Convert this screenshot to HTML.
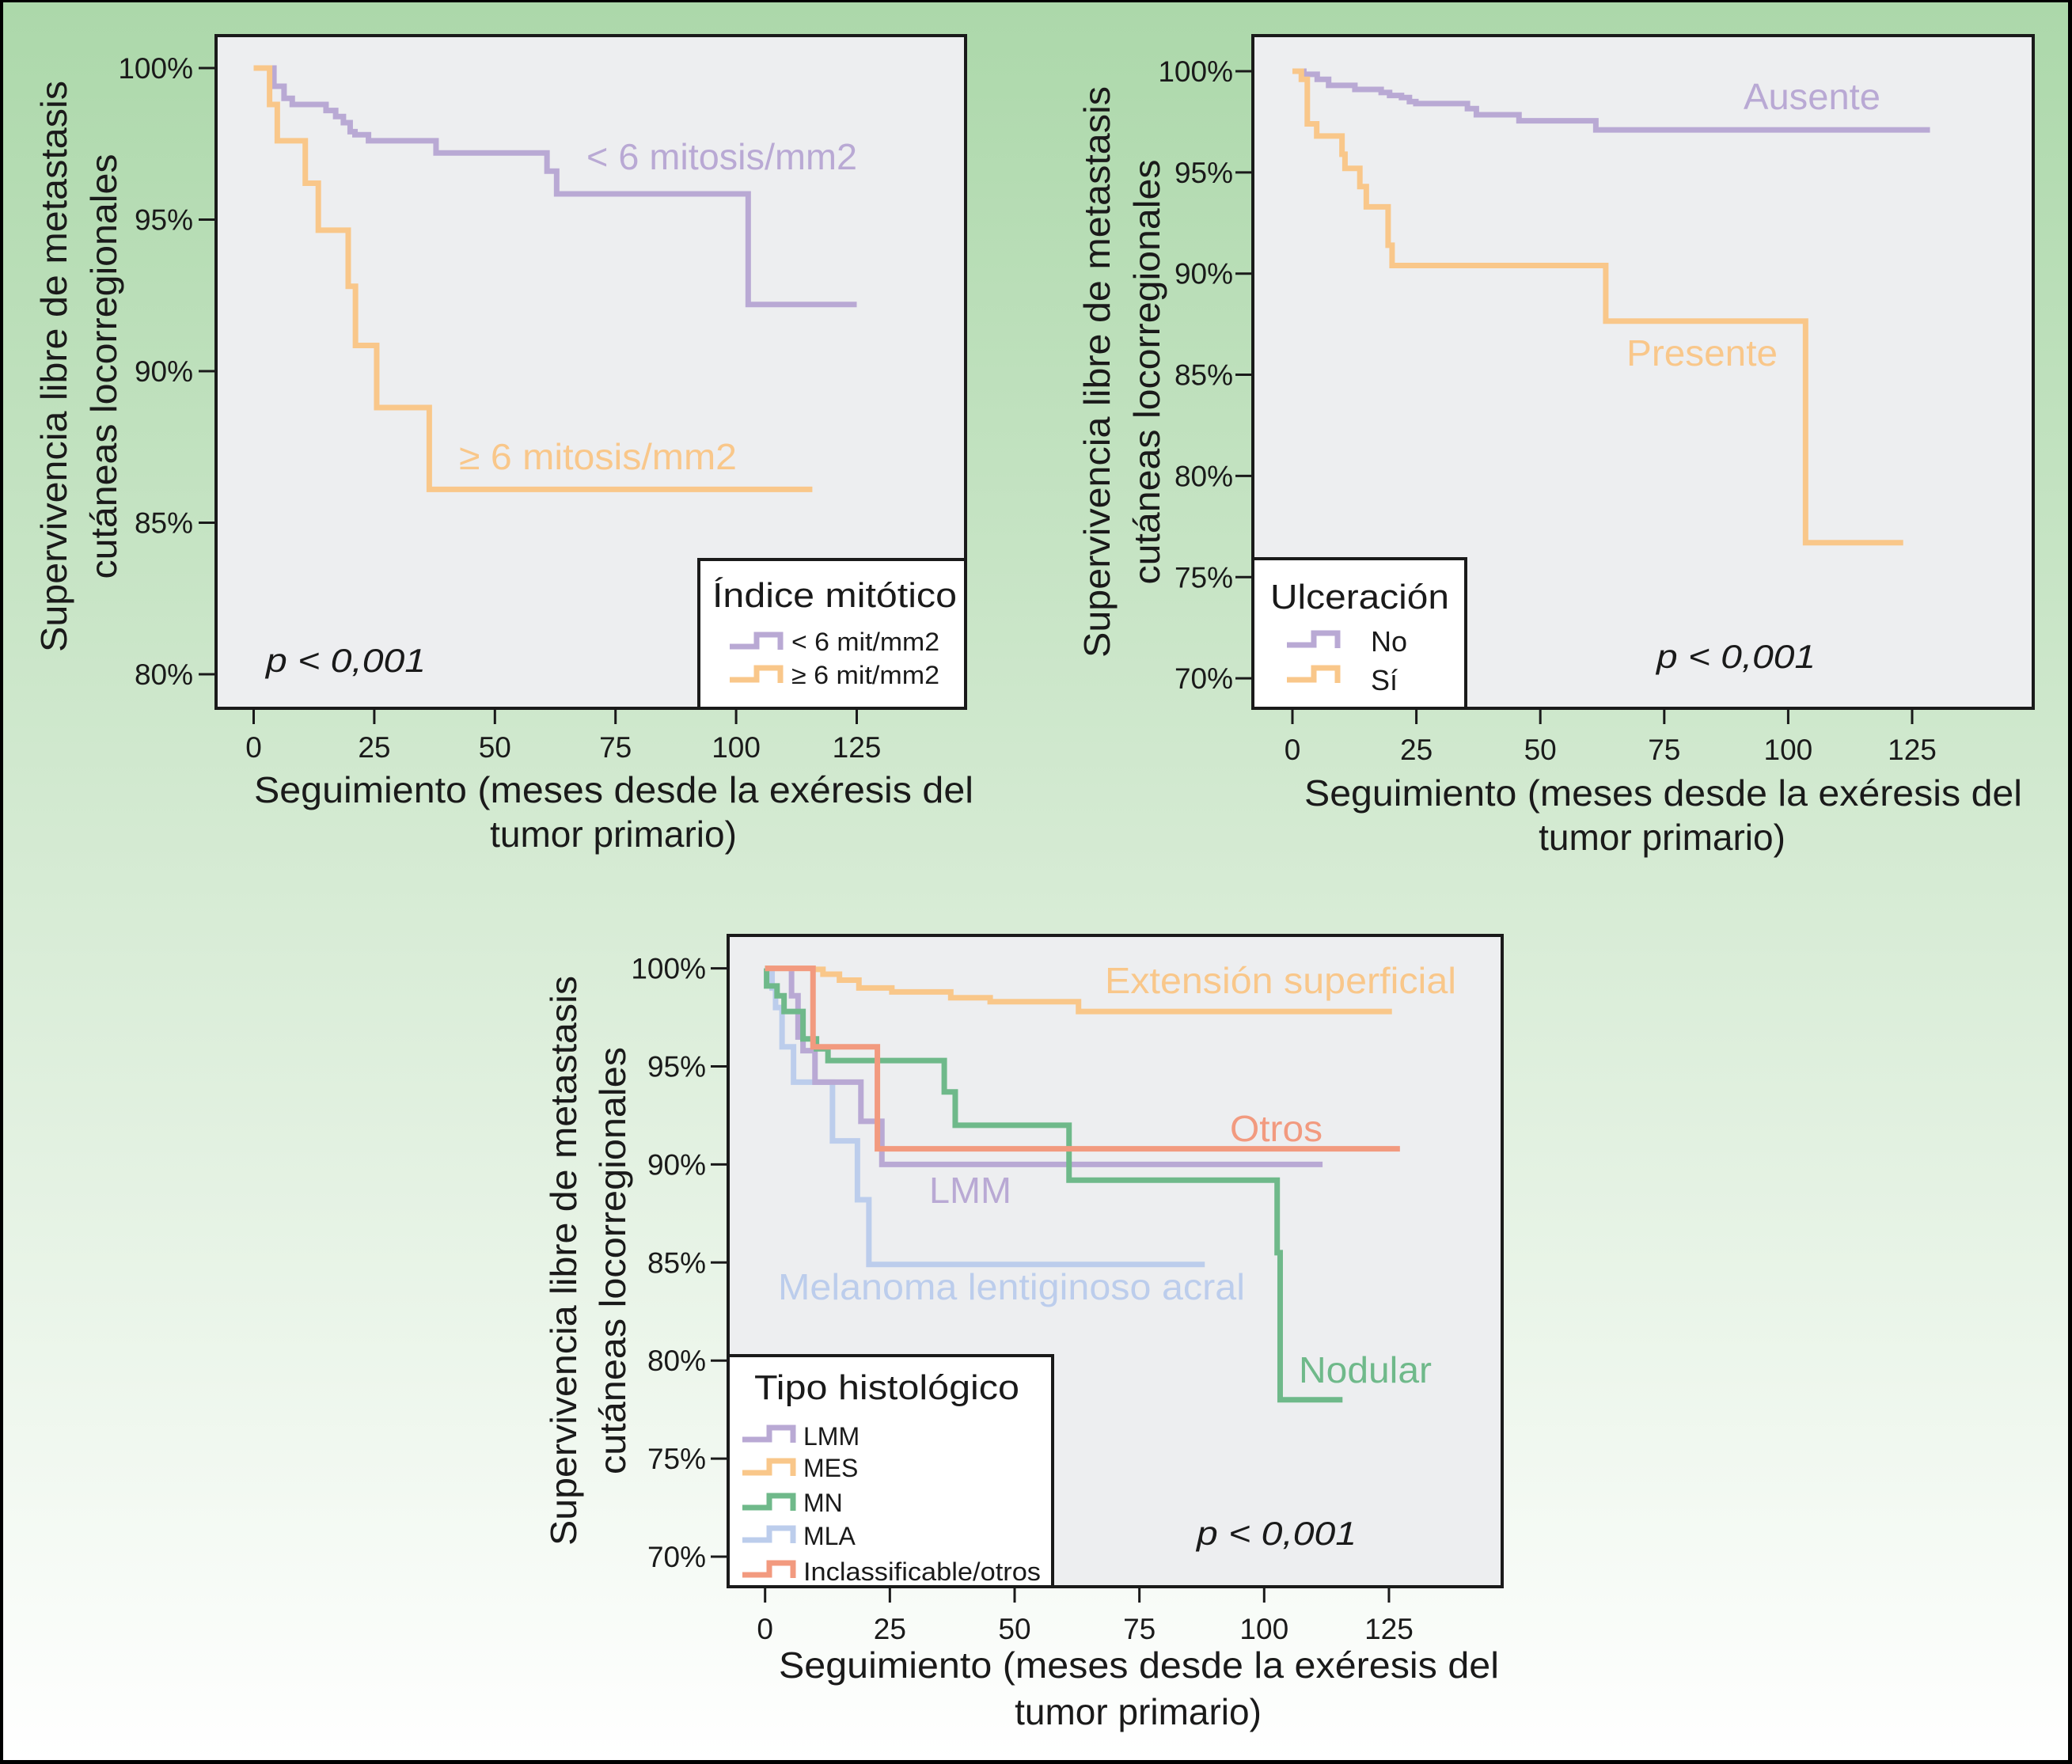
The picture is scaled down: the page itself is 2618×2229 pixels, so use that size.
<!DOCTYPE html>
<html><head><meta charset="utf-8"><style>
html,body{margin:0;padding:0}
body{width:2618px;height:2229px;overflow:hidden;background:#000}
svg{display:block}
text{font-family:"Liberation Sans",sans-serif;fill:#1a1a1a}
</style></head><body>
<svg id="fig" width="2618" height="2229" viewBox="0 0 2618 2229" xmlns="http://www.w3.org/2000/svg">
<defs><linearGradient id="bg" x1="0" y1="0" x2="0" y2="1">
<stop offset="0" stop-color="#acd8aa"/><stop offset="0.5" stop-color="#d6ebd4"/><stop offset="1" stop-color="#ffffff"/></linearGradient></defs>
<rect x="4" y="3" width="2609" height="2221" fill="url(#bg)"/>
<g id="root"></g>
</svg>
<script>
// ---- Chart 1 data (Índice mitótico)
const c1LowT = [0, 4.2, 6.3, 8, 15, 17, 18.6, 20, 21, 23.8, 37.8, 60.8, 62.8, 102.5, 125];
const c1LowS = [100, 99.4, 99.0, 98.8, 98.6, 98.4, 98.2, 97.9, 97.8, 97.6, 97.2, 96.6, 95.85, 92.2, 92.2];
const c1HighT = [0, 3.3, 4.9, 10.7, 13.4, 19.6, 21.1, 25.5, 36.4, 115.8];
const c1HighS = [100, 98.8, 97.6, 96.2, 94.65, 92.8, 90.85, 88.8, 86.1, 86.1];
const c1YTicks = [80, 85, 90, 95, 100];
const c1XTicks = [0, 25, 50, 75, 100, 125];
// ---- Chart 2 data (Ulceración)
const c2NoT = [0, 2.3, 5, 7.3, 12.6, 17.9, 19.6, 22, 23.6, 24.9, 35.3, 37.1, 45.7, 61.2, 128.6];
const c2NoS = [100, 99.85, 99.6, 99.3, 99.1, 98.95, 98.8, 98.7, 98.5, 98.4, 98.15, 97.85, 97.55, 97.1, 97.1];
const c2SiT = [0, 1.8, 3, 4.9, 10, 10.6, 13.6, 14.9, 19.3, 20.1, 63.2, 103.5, 123.2];
const c2SiS = [100, 99.6, 97.4, 96.8, 95.9, 95.2, 94.3, 93.3, 91.4, 90.4, 87.65, 76.7, 76.7];
const c2YTicks = [70, 75, 80, 85, 90, 95, 100];
const c2XTicks = [0, 25, 50, 75, 100, 125];
// ---- Chart 3 data (Tipo histológico)
const c3MesT = [0, 9.6, 11.6, 14.9, 18.8, 25.4, 37.2, 45.1, 62.8, 125.6];
const c3MesS = [100, 99.95, 99.7, 99.4, 99.0, 98.8, 98.5, 98.3, 97.8, 97.8];
const c3OtrT = [0, 9.6, 22.5, 127.2];
const c3OtrS = [100, 96.0, 90.8, 90.8];
const c3MnT = [0, 0.3, 2.4, 3.8, 7.6, 10.3, 12.6, 35.9, 38.1, 60.9, 102.6, 103.2, 115.7];
const c3MnS = [100, 99.1, 98.6, 97.8, 96.4, 95.9, 95.3, 93.7, 92.0, 89.2, 85.5, 78.0, 78.0];
const c3LmmT = [0, 5.3, 6.6, 7.6, 10, 19.2, 23.4, 111.7];
const c3LmmS = [100, 98.6, 96.5, 95.8, 94.2, 92.2, 90.0, 90.0];
const c3MlaT = [0, 1.4, 2.1, 3.4, 5.7, 13.5, 18.5, 20.8, 88.1];
const c3MlaS = [100, 99.0, 98.0, 96.0, 94.2, 91.2, 88.2, 84.9, 84.9];
const c3YTicks = [70, 75, 80, 85, 90, 95, 100];
const c3XTicks = [0, 25, 50, 75, 100, 125];

const NS = "http://www.w3.org/2000/svg";
const root = document.getElementById('root');
function mk(tag, attrs, parent, txt){
  const e = document.createElementNS(NS, tag);
  for (const k in attrs) e.setAttribute(k, attrs[k]);
  if (txt !== undefined) e.textContent = txt;
  (parent || root).appendChild(e);
  return e;
}
function stepPath(T, S, sx, sy){
  let d = 'M' + sx(T[0]) + ' ' + sy(S[0]);
  for (let i = 1; i < T.length; i++){
    d += ' H' + sx(T[i]) + ' V' + sy(S[i]);
  }
  return d;
}
function axes(g, box, sx, sy, yt, xt, tickR, xLabY){
  const bg = mk('rect', {x: box.x, y: box.y, width: box.w, height: box.h, fill: '#edeef0'}, g);
  
  
  yt.forEach(v => {
    const t = mk('line', {x1: box.x - 22, x2: box.x, y1: sy(v), y2: sy(v), stroke: '#1a1a1a', 'stroke-width': 3}, g);
    
    
    const l = mk('text', {x: tickR, y: sy(v) + 13, 'font-size': 37, 'text-anchor': 'end'}, g, v + '%');
    
    
  });
  xt.forEach(v => {
    const t = mk('line', {x1: sx(v), x2: sx(v), y1: box.y + box.h, y2: box.y + box.h + 20, stroke: '#1a1a1a', 'stroke-width': 3}, g);
    
    
    const l = mk('text', {x: sx(v), y: xLabY, 'font-size': 37, 'text-anchor': 'middle'}, g, String(v));
    
    
  });
}
function frame(g, box){
  const f = mk('rect', {x: box.x, y: box.y, width: box.w, height: box.h, fill: 'none', stroke: '#1a1a1a', 'stroke-width': 4}, g);
  
  
}
function series(g, T, S, sx, sy, color, name){
  const p = mk('path', {d: stepPath(T, S, sx, sy), fill: 'none', stroke: color, 'stroke-width': 7, 'stroke-linejoin': 'miter', 'stroke-linecap': 'butt'}, g);
  
  
}
function label(g, x, y, size, txt, color, name, opts){
  const a = Object.assign({x: x, y: y, 'font-size': size}, opts || {});
  const t = mk('text', a, g, txt);
  if (color) t.style.fill = color;
  
  
  return t;
}
function legendSym(g, x, y, color, name){
  // step glyph: low left segment, rise, high right segment, down tick
  const p = mk('path', {d: `M${x} ${y+18} H${x+34} V${y+3} H${x+64} V${y+22}`, fill: 'none', stroke: color, 'stroke-width': 7}, g);
  
  
}
function yTitle(g, x1, x2, cy, len1, len2){
  label(g, x1, cy, 46, 'Supervivencia libre de metastasis', null, 'y-axis-title-line1', {transform: `rotate(-90 ${x1} ${cy})`, 'text-anchor': 'middle', textLength: len1, lengthAdjust: 'spacingAndGlyphs'});
  label(g, x2, cy, 46, 'cutáneas locorregionales', null, 'y-axis-title-line2', {transform: `rotate(-90 ${x2} ${cy})`, 'text-anchor': 'middle', textLength: len2, lengthAdjust: 'spacingAndGlyphs'});
}
function xTitle(g, xl, xr, b1, cx2, b2){
  label(g, xl, b1, 46, 'Seguimiento (meses desde la exéresis del', null, 'x-axis-title-line1', {textLength: xr - xl, lengthAdjust: 'spacingAndGlyphs'});
  label(g, cx2, b2, 46, 'tumor primario)', null, 'x-axis-title-line2', {'text-anchor': 'middle'});
}
const PUR = '#b9a9d4', ORA = '#f9c78a', GRN = '#6fb98a', BLU = '#bccdec', SAL = '#f29a7f';

// ===== Chart 1
(function(){
  const g = mk('g', {});  
  const box = {x: 273, y: 45, w: 947, h: 850};
  const sx = v => 320.5 + v * 6.096;
  const sy = v => 86 + (100 - v) * 38.3;
  axes(g, box, sx, sy, c1YTicks, c1XTicks, 244, 957);
  series(g, c1LowT, c1LowS, sx, sy, PUR, 'series-lt6-mitosis');
  series(g, c1HighT, c1HighS, sx, sy, ORA, 'series-ge6-mitosis');
  label(g, 741, 214, 46, '< 6 mitosis/mm2', PUR, 'label-lt6-mitosis', {textLength: 342, lengthAdjust: 'spacingAndGlyphs'});
  label(g, 580, 593, 46, '≥ 6 mitosis/mm2', ORA, 'label-ge6-mitosis', {textLength: 351, lengthAdjust: 'spacingAndGlyphs'});
  label(g, 336, 849, 42, 'p < 0,001', null, 'p-value', {'font-style': 'italic', textLength: 202, lengthAdjust: 'spacingAndGlyphs'});
  const lg = mk('rect', {x: 883, y: 707, width: 337, height: 188, fill: '#fff', stroke: '#1a1a1a', 'stroke-width': 4}, g);
   
  label(g, 900, 767, 44, 'Índice mitótico', null, 'legend-title', {textLength: 309, lengthAdjust: 'spacingAndGlyphs'});
  legendSym(g, 922, 799, PUR, 'legend-symbol-lt6');
  label(g, 1000, 822, 32, '< 6 mit/mm2', null, 'legend-entry-lt6', {textLength: 187, lengthAdjust: 'spacingAndGlyphs'});
  legendSym(g, 922, 841, ORA, 'legend-symbol-ge6');
  label(g, 1000, 864, 32, '≥ 6 mit/mm2', null, 'legend-entry-ge6', {textLength: 187, lengthAdjust: 'spacingAndGlyphs'});
  frame(g, box);
  yTitle(g, 84, 147, 463, 722, 537);
  xTitle(g, 321, 1230, 1014, 775, 1070);
})();

// ===== Chart 2
(function(){
  const g = mk('g', {});  
  const box = {x: 1583, y: 45, w: 986, h: 850};
  const sx = v => 1633 + v * 6.264;
  const sy = v => 90 + (100 - v) * 25.57;
  axes(g, box, sx, sy, c2YTicks, c2XTicks, 1558, 960);
  series(g, c2NoT, c2NoS, sx, sy, PUR, 'series-ulceration-no');
  series(g, c2SiT, c2SiS, sx, sy, ORA, 'series-ulceration-yes');
  label(g, 2203, 138, 46, 'Ausente', PUR, 'label-ausente', {textLength: 173, lengthAdjust: 'spacingAndGlyphs'});
  label(g, 2055, 462, 46, 'Presente', ORA, 'label-presente', {textLength: 191, lengthAdjust: 'spacingAndGlyphs'});
  label(g, 2093, 844, 42, 'p < 0,001', null, 'p-value', {'font-style': 'italic', textLength: 201, lengthAdjust: 'spacingAndGlyphs'});
  const lg = mk('rect', {x: 1583, y: 706, width: 269, height: 189, fill: '#fff', stroke: '#1a1a1a', 'stroke-width': 4}, g);
   
  label(g, 1605, 769, 44, 'Ulceración', null, 'legend-title', {textLength: 226, lengthAdjust: 'spacingAndGlyphs'});
  legendSym(g, 1626, 797, PUR, 'legend-symbol-no');
  label(g, 1732, 823, 36, 'No', null, 'legend-entry-no');
  legendSym(g, 1626, 841, ORA, 'legend-symbol-si');
  label(g, 1732, 872, 36, 'Sí', null, 'legend-entry-si');
  frame(g, box);
  yTitle(g, 1402, 1465, 470, 722, 537);
  xTitle(g, 1648, 2555, 1018, 2100, 1074);
})();

// ===== Chart 3
(function(){
  const g = mk('g', {});  
  const box = {x: 920, y: 1182, w: 978, h: 823};
  const sx = v => 966.7 + v * 6.306;
  const sy = v => 1223.6 + (100 - v) * 24.78;
  axes(g, box, sx, sy, c3YTicks, c3XTicks, 892, 2071);
  series(g, c3MlaT, c3MlaS, sx, sy, BLU, 'series-mla');
  series(g, c3LmmT, c3LmmS, sx, sy, PUR, 'series-lmm');
  series(g, c3MnT, c3MnS, sx, sy, GRN, 'series-mn');
  series(g, c3MesT, c3MesS, sx, sy, ORA, 'series-mes');
  series(g, c3OtrT, c3OtrS, sx, sy, SAL, 'series-otros');
  label(g, 1396, 1255, 46, 'Extensión superficial', ORA, 'label-extension-superficial', {textLength: 444, lengthAdjust: 'spacingAndGlyphs'});
  label(g, 1554, 1442, 46, 'Otros', SAL, 'label-otros', {textLength: 117, lengthAdjust: 'spacingAndGlyphs'});
  label(g, 1174, 1520, 46, 'LMM', PUR, 'label-lmm', {textLength: 104, lengthAdjust: 'spacingAndGlyphs'});
  label(g, 983, 1642, 46, 'Melanoma lentiginoso acral', BLU, 'label-mla', {textLength: 590, lengthAdjust: 'spacingAndGlyphs'});
  label(g, 1641, 1747, 46, 'Nodular', GRN, 'label-nodular', {textLength: 168, lengthAdjust: 'spacingAndGlyphs'});
  label(g, 1512, 1952, 42, 'p < 0,001', null, 'p-value', {'font-style': 'italic', textLength: 202, lengthAdjust: 'spacingAndGlyphs'});
  const lg = mk('rect', {x: 920, y: 1713, width: 410, height: 292, fill: '#fff', stroke: '#1a1a1a', 'stroke-width': 4}, g);
   
  label(g, 953, 1768, 44, 'Tipo histológico', null, 'legend-title', {textLength: 335, lengthAdjust: 'spacingAndGlyphs'});
  legendSym(g, 938, 1801, PUR, 'legend-symbol-lmm');
  label(g, 1015, 1826, 32, 'LMM', null, 'legend-entry-lmm');
  legendSym(g, 938, 1843, ORA, 'legend-symbol-mes');
  label(g, 1015, 1866, 32, 'MES', null, 'legend-entry-mes');
  legendSym(g, 938, 1887, GRN, 'legend-symbol-mn');
  label(g, 1015, 1910, 32, 'MN', null, 'legend-entry-mn');
  legendSym(g, 938, 1928, BLU, 'legend-symbol-mla');
  label(g, 1015, 1952, 32, 'MLA', null, 'legend-entry-mla');
  legendSym(g, 938, 1972, SAL, 'legend-symbol-otros');
  label(g, 1015, 1997, 32, 'Inclassificable/otros', null, 'legend-entry-otros', {textLength: 300, lengthAdjust: 'spacingAndGlyphs'});
  frame(g, box);
  yTitle(g, 728, 790, 1593, 720, 540);
  xTitle(g, 984, 1894, 2120, 1438, 2179);
})();
</script>
</body></html>
